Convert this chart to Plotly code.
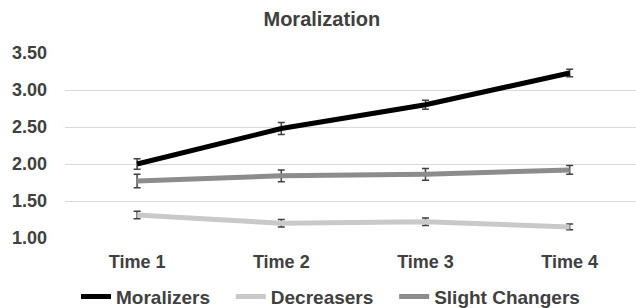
import plotly.graph_objects as go

times = ["Time 1", "Time 2", "Time 3", "Time 4"]
x_pos = [0, 1, 2, 3]

moralizers = [2.00, 2.48, 2.80, 3.23]
moralizers_err = [0.07, 0.08, 0.06, 0.05]
decreasers = [1.31, 1.20, 1.22, 1.15]
decreasers_err = [0.05, 0.05, 0.05, 0.04]
slight = [1.77, 1.84, 1.86, 1.92]
slight_err = [0.09, 0.08, 0.08, 0.06]

series_names = ["Moralizers", "Decreasers", "Slight Changers"]

pad = "\u00a0\u00a0\u00a0"
series = [
    (series_names[0] + pad, moralizers, moralizers_err, "#000000"),
    (series_names[1] + pad, decreasers, decreasers_err, "#c9c9c9"),
    (series_names[2], slight, slight_err, "#8c8c8c"),
]

fig = go.Figure()
for name, vals, errs, color in series:
    fig.add_trace(go.Scatter(
        x=x_pos, y=vals, name=name, mode="lines",
        line=dict(color=color, width=5),
        error_y=dict(type="data", array=errs, visible=True,
                     color="#404040", thickness=1.5, width=3.5),
    ))

font_family = "Liberation Sans, Arial, sans-serif"
fig.update_layout(
    width=636, height=308,
    margin=dict(l=65, r=0, t=53, b=70, autoexpand=False),
    paper_bgcolor="white", plot_bgcolor="white",
    font=dict(family=font_family, color="#404040", size=14, weight="bold"),
    title=dict(text="Moralization", x=0.506, xanchor="center", y=0.938, yanchor="middle",
               font=dict(family=font_family, size=20, color="#404040", weight="bold")),
    showlegend=True,
    legend=dict(orientation="h", xref="container", x=76 / 636, xanchor="left",
                yref="container", y=0.037, yanchor="middle",
                font=dict(family=font_family, size=19, color="#404040", weight="bold"),
                itemwidth=30, tracegroupgap=0),
)
fig.update_xaxes(
    range=[-0.5, 3.46], tickvals=x_pos, ticktext=times,
    showgrid=False, zeroline=False, showline=False, ticks="",
    ticklabelstandoff=11,
    tickfont=dict(family=font_family, size=18, color="#404040", weight="bold"),
)
fig.update_yaxes(
    range=[1, 3.5], tickvals=[1, 1.5, 2, 2.5, 3, 3.5], tickformat=".2f",
    showgrid=True, gridcolor="#d9d9d9", gridwidth=1, zeroline=False,
    showline=False, ticks="", ticklabelstandoff=17,
    tickfont=dict(family=font_family, size=18, color="#404040", weight="bold"),
)
fig.write_html(
    "out.html",
    config={"displayModeBar": False},
    post_script="document.body.style.margin='0';document.body.style.overflow='hidden';",
)
